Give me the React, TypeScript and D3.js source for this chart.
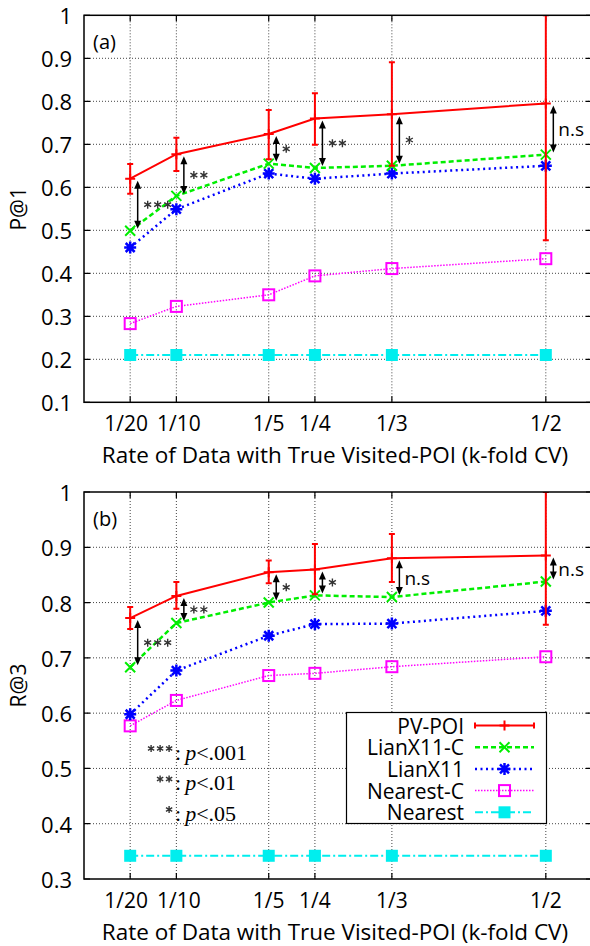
import React from "react";
import * as d3 from "d3";

// x positions (fraction of data with true visited POI)
const xVals = [1 / 20, 1 / 10, 1 / 5, 1 / 4, 1 / 3, 1 / 2];
const xLabels = ["1/20", "1/10", "1/5", "1/4", "1/3", "1/2"];
const seriesNames = ["PV-POI", "LianX11-C", "LianX11", "Nearest-C", "Nearest"];

// panel (a) : P@1
const pvA = [0.62, 0.677, 0.724, 0.76, 0.77, 0.795];
const pvALow = [0.585, 0.638, 0.665, 0.699, 0.65, 0.477];
const pvAHigh = [0.654, 0.715, 0.78, 0.819, 0.891, 1.0];
const lianCA = [0.499, 0.58, 0.655, 0.645, 0.65, 0.676];
const lianA = [0.46, 0.549, 0.632, 0.62, 0.632, 0.65];
const nearCA = [0.283, 0.323, 0.35, 0.394, 0.411, 0.434];
const nearA = [0.21, 0.21, 0.21, 0.21, 0.21, 0.21];
const sigA = ["***", "**", "*", "**", "*", "n.s"];
const yTicksA = [0.1, 0.2, 0.3, 0.4, 0.5, 0.6, 0.7, 0.8, 0.9, 1];

// panel (b) : R@3
const pvB = [0.772, 0.812, 0.855, 0.86, 0.88, 0.885];
const pvBLow = [0.752, 0.789, 0.835, 0.815, 0.837, 0.76];
const pvBHigh = [0.792, 0.837, 0.876, 0.906, 0.924, 1.0];
const lianCB = [0.683, 0.763, 0.8, 0.813, 0.81, 0.838];
const lianB = [0.598, 0.677, 0.74, 0.761, 0.762, 0.785];
const nearCB = [0.577, 0.623, 0.668, 0.672, 0.684, 0.702];
const nearB = [0.342, 0.342, 0.342, 0.342, 0.342, 0.342];
const sigB = ["***", "**", "*", "*", "n.s", "n.s"];
const yTicksB = [0.3, 0.4, 0.5, 0.6, 0.7, 0.8, 0.9, 1];

// significance key
const sigLevels = ["***", "**", "*"];
const pLevels = ["<.001", "<.01", "<.05"];

const FONT = "'Open Sans', 'DejaVu Sans', sans-serif";
const frame = { left: 84, right: 592 };
const xScale = d3.scaleLinear().domain([0, 0.55]).range([frame.left, frame.right]);
// the two crowded labels sit slightly apart in the original
const labelNudge = [-4, 2.5, 0, 0, 0, 0];

const styles = [
  { color: "#ff0000", width: 2, dash: undefined, marker: "plus" },
  { color: "#00ee00", width: 2.5, dash: "5,3", marker: "cross" },
  { color: "#0000ff", width: 2.5, dash: "2,3.5", marker: "star" },
  { color: "#ff00ff", width: 1.5, dash: "1.5,1.5", marker: "box" },
  { color: "#00eeee", width: 2, dash: "8,3,2,3", marker: "fbox" },
];

const Marker = ({ type, x, y, color }) => {
  if (type === "plus")
    return <path d={`M${x - 5},${y}H${x + 5}M${x},${y - 5}V${y + 5}`} stroke={color} strokeWidth={2} />;
  if (type === "cross")
    return <path d={`M${x - 5},${y - 5}L${x + 5},${y + 5}M${x - 5},${y + 5}L${x + 5},${y - 5}`} stroke={color} strokeWidth={2} />;
  if (type === "star")
    return (
      <path
        d={`M${x - 6},${y}H${x + 6}M${x},${y - 6}V${y + 6}M${x - 4.5},${y - 4.5}L${x + 4.5},${y + 4.5}M${x - 4.5},${y + 4.5}L${x + 4.5},${y - 4.5}`}
        stroke={color}
        strokeWidth={2.5}
      />
    );
  if (type === "box")
    return <rect x={x - 5.5} y={y - 5.5} width={11} height={11} fill="none" stroke={color} strokeWidth={2} />;
  return <rect x={x - 6} y={y - 6} width={12} height={12} fill={color} />;
};

// little six-spoke asterisks, as the figure draws them
const Stars = ({ n, x, y, r = 4, gap = 10 }) => (
  <g stroke="#333" strokeWidth={1.4}>
    {d3.range(n).map((k) => {
      const cx = x + r + k * gap;
      return (
        <path
          key={k}
          d={`M${cx},${y - r}V${y + r}M${cx - r * 0.87},${y - r / 2}L${cx + r * 0.87},${y + r / 2}M${cx - r * 0.87},${y + r / 2}L${cx + r * 0.87},${y - r / 2}`}
        />
      );
    })}
  </g>
);

const Panel = ({ id, tag, yTitle, yDomain, yTicks, top, bottom, series, low, high, sig, withKey }) => {
  const y = d3.scaleLinear().domain(yDomain).range([bottom, top]);
  const line = d3
    .line<number>()
    .x((d, i) => xScale(xVals[i]))
    .y((d) => y(d));
  const fmt = (d) => (d === 1 ? "1" : d.toFixed(1));

  return (
    <g>
      <defs>
        <clipPath id={id}>
          <rect x={frame.left} y={top} width={frame.right - frame.left} height={bottom - top} />
        </clipPath>
      </defs>

      {/* grid */}
      <g stroke="#444" strokeWidth={1} strokeDasharray="1,2">
        {yTicks.slice(1, -1).map((t) => (
          <line key={t} x1={frame.left} x2={frame.right} y1={y(t)} y2={y(t)} />
        ))}
        {xVals.map((v) => (
          <line key={v} x1={xScale(v)} x2={xScale(v)} y1={top} y2={bottom} />
        ))}
      </g>

      {/* ticks */}
      <g stroke="#000" strokeWidth={1.2}>
        {yTicks.map((t) => (
          <path key={t} d={`M${frame.left},${y(t)}h6M${frame.right},${y(t)}h-6`} />
        ))}
        {xVals.map((v) => (
          <path key={v} d={`M${xScale(v)},${bottom}v-6M${xScale(v)},${top}v6`} />
        ))}
      </g>

      {/* tick labels */}
      <g fontFamily={FONT} fontSize={22} fill="#000">
        {yTicks.map((t) => (
          <text key={t} x={frame.left - 12} y={y(t)} textAnchor="end" dominantBaseline="central">
            {fmt(t)}
          </text>
        ))}
        {xVals.map((v, i) => (
          <text key={v} x={xScale(v) + labelNudge[i]} y={bottom + 29} textAnchor="middle" fontSize={21}>
            {xLabels[i]}
          </text>
        ))}
      </g>
      <text x={335} y={bottom + 61} textAnchor="middle" fontFamily={FONT} fontSize={22.5}>
        Rate of Data with True Visited-POI (k-fold CV)
      </text>
      <text
        transform={`translate(18,${(top + bottom) / 2}) rotate(-90)`}
        textAnchor="middle"
        dominantBaseline="central"
        fontFamily={FONT}
        fontSize={21}
      >
        {yTitle}
      </text>
      <text x={frame.left + 9} y={top + 26} dominantBaseline="central" fontFamily={FONT} fontSize={20}>
        {tag}
      </text>

      {/* data */}
      <g clipPath={`url(#${id})`}>
        {series
          .map((vals, s) => ({ vals, s }))
          .reverse()
          .map(({ vals, s }) => (
            <g key={s}>
              <path
                d={line(vals) || ""}
                fill="none"
                stroke={styles[s].color}
                strokeWidth={styles[s].width}
                strokeDasharray={styles[s].dash}
              />
              {s === 0 &&
                vals.map((v, i) => {
                  const cx = xScale(xVals[i]);
                  return (
                    <path
                      key={i}
                      d={`M${cx},${y(low[i])}V${y(high[i])}M${cx - 3},${y(low[i])}h6M${cx - 3},${y(high[i])}h6`}
                      stroke={styles[0].color}
                      strokeWidth={2}
                    />
                  );
                })}
              {vals.map((v, i) => (
                <Marker key={i} type={styles[s].marker} x={xScale(xVals[i])} y={y(v)} color={styles[s].color} />
              ))}
            </g>
          ))}
      </g>

      {/* significance arrows between PV-POI and LianX11-C */}
      <g>
        {sig.map((lab, i) => {
          const ax = xScale(xVals[i]) + 7.5;
          const y1 = y(series[0][i]) + 2;
          const y2 = y(series[1][i]) - 2;
          const mid = (y1 + y2) / 2;
          return (
            <g key={i}>
              <line x1={ax} x2={ax} y1={y1 + 5} y2={y2 - 5} stroke="#000" strokeWidth={1.5} />
              <path d={`M${ax},${y1}L${ax - 3.5},${y1 + 8}L${ax + 3.5},${y1 + 8}Z`} fill="#000" />
              <path d={`M${ax},${y2}L${ax - 3.5},${y2 - 8}L${ax + 3.5},${y2 - 8}Z`} fill="#000" />
              {lab === "n.s" ? (
                <text x={ax + 5} y={mid} dominantBaseline="central" fontFamily={FONT} fontSize={19}>
                  n.s
                </text>
              ) : (
                <Stars n={lab.length} x={ax + 6} y={mid} />
              )}
            </g>
          );
        })}
      </g>

      {withKey && (
        <g>
          {/* p-value key */}
          {sigLevels.map((lab, k) => {
            const base = 759.5 + k * 30.5;
            return (
              <g key={lab}>
                <Stars n={lab.length} x={173.5 - lab.length * 9 + 1} y={base - 11} r={3.6} gap={9} />
                <text x={175} y={base} fontFamily="'Liberation Serif', 'DejaVu Serif', serif" fontSize={22}>
                  :<tspan dx={4} fontStyle="italic">p</tspan>
                  <tspan>{pLevels[k]}</tspan>
                </text>
              </g>
            );
          })}

          {/* legend */}
          <rect x={346.5} y={712.5} width={200} height={111} fill="#fff" stroke="#000" strokeWidth={1.2} />
          {seriesNames.map((name, s) => {
            const ly = 725.5 + s * 21.7;
            return (
              <g key={name}>
                <text x={464} y={ly} textAnchor="end" dominantBaseline="central" fontFamily={FONT} fontSize={21}>
                  {name}
                </text>
                <line
                  x1={475}
                  x2={534}
                  y1={ly}
                  y2={ly}
                  stroke={styles[s].color}
                  strokeWidth={styles[s].width}
                  strokeDasharray={styles[s].dash}
                />
                {s === 0 && (
                  <path d={`M475,${ly - 3}v6M534,${ly - 3}v6`} stroke={styles[0].color} strokeWidth={2} />
                )}
                <Marker type={styles[s].marker} x={504.5} y={ly} color={styles[s].color} />
              </g>
            );
          })}
        </g>
      )}

      {/* border */}
      <rect
        x={frame.left}
        y={top}
        width={frame.right - frame.left}
        height={bottom - top}
        fill="none"
        stroke="#000"
        strokeWidth={1.5}
      />
    </g>
  );
};

const App = () => {
  return (
    <svg width={590} height={946} style={{ position: "absolute", left: 0, top: 0, background: "#fff" }}>
      <rect width={590} height={946} fill="#fff" />
      <Panel
        id="clipA"
        tag="(a)"
        yTitle="P@1"
        yDomain={[0.1, 1]}
        yTicks={yTicksA}
        top={15.3}
        bottom={402.3}
        series={[pvA, lianCA, lianA, nearCA, nearA]}
        low={pvALow}
        high={pvAHigh}
        sig={sigA}
        withKey={false}
      />
      <Panel
        id="clipB"
        tag="(b)"
        yTitle="R@3"
        yDomain={[0.3, 1]}
        yTicks={yTicksB}
        top={492}
        bottom={879}
        series={[pvB, lianCB, lianB, nearCB, nearB]}
        low={pvBLow}
        high={pvBHigh}
        sig={sigB}
        withKey={true}
      />
    </svg>
  );
};

export default App;
